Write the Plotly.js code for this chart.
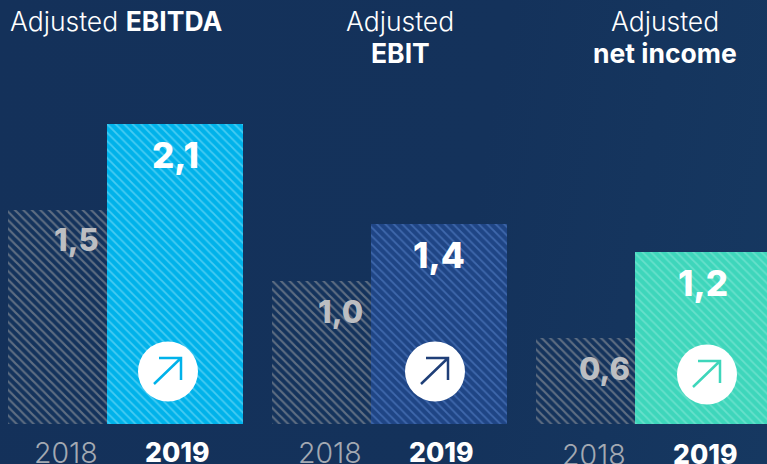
<!DOCTYPE html>
<html><head><meta charset="utf-8">
<script src="https://cdn.plot.ly/plotly-3.0.1.min.js"></script>
<style>html,body{margin:0;padding:0;width:767px;height:464px;overflow:hidden;background:linear-gradient(100deg,#14315a 0%,#14325b 60%,#163861 100%)}#c{width:767px;height:464px}</style>
</head><body><div id="c"></div>
<script>
const metrics = ['EBITDA', 'EBIT', 'net income'];
const years = ['2018', '2019'];
const values2018 = [1.5, 1.0, 0.6];
const values2019 = [2.1, 1.4, 1.2];
const titleLines = [['Adjusted <b>EBITDA</b>'], ['Adjusted', '<b>EBIT</b>'], ['Adjusted', '<b>net income</b>']];
const bg2019 = ['#00b2ea', '#1f4585', '#3ed6bb'];
const fg2019 = ['#8ce3fa', '#5f8cd4', '#8feadb'];
const arrow2019 = ['#00b2ea', '#1f3f78', '#3ed6bb'];

const FONT = 'Inter, "Open Sans", sans-serif';
const groupStep = 264, left0 = 8, w18 = 99, w19 = 136;
const start = i => left0 + i * groupStep;
const c18 = i => start(i) + w18 / 2;
const c19 = i => start(i) + w18 + w19 / 2;
const fmt = v => v.toFixed(1).replace('.', ',');

const traces = [];
metrics.forEach((m, i) => {
  traces.push({type: 'bar', hoverinfo: 'skip', name: m + ' ' + years[0], x: [c18(i)], y: [values2018[i]], width: [w18],
    marker: {color: '#14335c', line: {width: 0}, pattern: {shape: '\\', size: 6, solidity: 0.36, fgcolor: '#a8a8a8', fillmode: 'overlay'}}});
  traces.push({type: 'bar', hoverinfo: 'skip', name: m + ' ' + years[1], x: [c19(i)], y: [values2019[i]], width: [w19],
    marker: {color: bg2019[i], line: {width: 0}, pattern: {shape: '\\', size: 6, solidity: 0.3, fgcolor: fg2019[i], fillmode: 'overlay'}}});
});

const ann = [];
const shapes = [];
const text = (x, y, t, size, color, yshift, weight) => ann.push({x, y, text: t, xref: 'x', yref: 'y', yshift, showarrow: false, xanchor: 'center', yanchor: 'middle',
  font: {family: FONT, size, color, weight: weight || 400}});
metrics.forEach((m, i) => {
  const yo = i === 2 ? 2 : 0;
  text(c18(i) + 8, 0, years[0], 28.5, '#a3a9b2', -28 - yo, 300);
  text(c19(i) + 1.5, 0, years[1], 26.5, '#ffffff', -28 - yo, 800);
  text(c18(i) + 19, values2018[i], fmt(values2018[i]), 31, '#bcbec2', -30, 800);
  text(c19(i), values2019[i], fmt(values2019[i]), 35, '#ffffff', -31, 800);
  titleLines[i].forEach((l, k) => {
    ann.push({xref: 'x', yref: 'paper', x: [116, 400, 665][i], y: 1, yshift: -21 - k * 32, yanchor: 'middle', xanchor: 'center', showarrow: false, text: l,
      font: {family: FONT, size: 26.5, color: '#ffffff', weight: 300}});
  });
  const cx = [168, 435, 707][i], up = [52.5, 52.5, 49.5][i];
  const base = {xref: 'x', yref: 'y', xsizemode: 'pixel', ysizemode: 'pixel', xanchor: cx, yanchor: 0};
  shapes.push({...base, type: 'circle', x0: -30, x1: 30, y0: up - 30, y1: up + 30, fillcolor: '#ffffff', line: {width: 0}});
  const P = (a, b) => a + ' ' + (up - b);
  shapes.push({...base, type: 'path', path: `M ${P(-14, 12.5)} L ${P(13, -13.5)} M ${P(-9, -13.5)} L ${P(13, -13.5)} L ${P(13, 8.5)}`, line: {color: arrow2019[i], width: 2.5}});
});

Plotly.newPlot('c', traces, {
  width: 767, height: 464, margin: {l: 0, r: 0, t: 0, b: 0}, showlegend: false, barmode: 'overlay', bargap: 0,
  paper_bgcolor: 'rgba(0,0,0,0)', plot_bgcolor: 'rgba(0,0,0,0)',
  xaxis: {range: [0, 767], visible: false, fixedrange: true},
  yaxis: {range: [-40 / 143, 424 / 143], visible: false, fixedrange: true},
  annotations: ann, shapes
}, {displayModeBar: false, staticPlot: true});
</script></body></html>
